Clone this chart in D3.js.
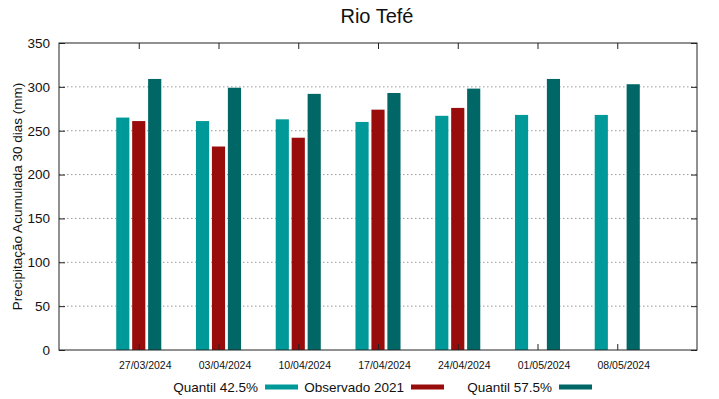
<!DOCTYPE html>
<html>
<head>
<meta charset="utf-8">
<script src="https://cdn.jsdelivr.net/npm/d3@7"></script>
<style>
  body { margin: 0; background: #fff; }
  text { font-family: "Liberation Sans", Arial, sans-serif; }
</style>
</head>
<body>
<div id="chart"></div>
<script>
// data
var dates = ["27/03/2024", "03/04/2024", "10/04/2024", "17/04/2024", "24/04/2024", "01/05/2024", "08/05/2024"];
var q425 = [265, 261, 263, 260, 267, 268, 268];
var obs2021 = [261, 232, 242, 274, 276, null, null];
var q575 = [309, 299, 292, 293, 298, 309, 303];
var yTicks = [0, 50, 100, 150, 200, 250, 300, 350];

var seriesNames = ["Quantil 42.5%", "Observado 2021", "Quantil 57.5%"];
var seriesColors = ["#009999", "#990c0c", "#006666"];
var seriesData = [q425, obs2021, q575];

var W = 719, H = 399;
var margin = { top: 43, right: 22, bottom: 49, left: 59 },
    width = W - margin.left - margin.right,
    height = H - margin.top - margin.bottom;

var svg = d3.select("#chart")
    .append("svg")
    .attr("width", W)
    .attr("height", H);

var g = svg.append("g")
    .attr("transform", "translate(" + margin.left + "," + margin.top + ")");

// groups sit at 0..6, with a spare slot each side
var x = d3.scaleLinear().domain([-1, dates.length]).range([0, width]);
var y = d3.scaleLinear().domain([0, 350]).range([height, 0]);

// dotted grid
g.append("g")
    .selectAll("line")
    .data(yTicks.filter(function (d) { return d > 0 && d < 350; }))
    .enter().append("line")
    .attr("x1", 0).attr("x2", width)
    .attr("y1", function (d) { return y(d); })
    .attr("y2", function (d) { return y(d); })
    .attr("stroke", "#999")
    .attr("stroke-width", 1)
    .attr("stroke-dasharray", "1.5,2.5");

// bars
var barW = 0.165, step = 0.2;
seriesData.forEach(function (vals, s) {
    g.append("g")
        .selectAll("rect")
        .data(vals.map(function (v, i) { return { i: i, v: v }; }).filter(function (d) { return d.v != null; }))
        .enter().append("rect")
        .attr("x", function (d) { return x(d.i + (s - 1) * step - barW / 2); })
        .attr("width", x(barW) - x(0))
        .attr("y", function (d) { return y(d.v); })
        .attr("height", function (d) { return height - y(d.v); })
        .attr("fill", seriesColors[s]);
});

// axes
var yAxis = g.append("g")
    .call(d3.axisLeft(y).tickValues(yTicks).tickSize(-6).tickPadding(9));
yAxis.select(".domain").remove();
yAxis.selectAll("line").attr("stroke", "#222");
yAxis.selectAll("text").attr("font-size", "13.5px").attr("fill", "#111")
    .style("font-family", "Liberation Sans, Arial, sans-serif");

var yAxisR = g.append("g")
    .attr("transform", "translate(" + width + ",0)")
    .call(d3.axisRight(y).tickValues(yTicks).tickSize(-6).tickFormat(""));
yAxisR.select(".domain").remove();
yAxisR.selectAll("line").attr("stroke", "#222");

var xIdx = d3.range(dates.length);
var xAxis = g.append("g")
    .attr("transform", "translate(0," + height + ")")
    .call(d3.axisBottom(x).tickValues(xIdx).tickSize(-6).tickPadding(12)
        .tickFormat(function (i) { return dates[i]; }));
xAxis.select(".domain").remove();
xAxis.selectAll("line").attr("stroke", "#222");
xAxis.selectAll("text").attr("font-size", "10.5px").attr("fill", "#111")
    .attr("dx", 6)
    .style("font-family", "Liberation Sans, Arial, sans-serif");

var xAxisT = g.append("g")
    .call(d3.axisTop(x).tickValues(xIdx).tickSize(-6).tickFormat(""));
xAxisT.select(".domain").remove();
xAxisT.selectAll("line").attr("stroke", "#222");

// frame
g.append("rect")
    .attr("width", width).attr("height", height)
    .attr("fill", "none")
    .attr("stroke", "#222")
    .attr("stroke-width", 1);

// title
svg.append("text")
    .attr("x", 377).attr("y", 23)
    .attr("text-anchor", "middle")
    .attr("font-size", "20px")
    .attr("fill", "#111")
    .text("Rio Tefé");

// y label
svg.append("text")
    .attr("text-anchor", "middle")
    .attr("transform", "translate(22," + (margin.top + height / 2) + ")rotate(-90)")
    .attr("font-size", "13.5px")
    .attr("fill", "#111")
    .text("Precipitação Acumulada 30 dias (mm)");

// legend
var legEnds = [258, 404, 552];
var leg = svg.append("g");
seriesNames.forEach(function (name, s) {
    leg.append("text")
        .attr("x", legEnds[s]).attr("y", 392)
        .attr("text-anchor", "end")
        .attr("font-size", "13.5px")
        .attr("fill", "#111")
        .text(name);
    leg.append("rect")
        .attr("x", legEnds[s] + 7).attr("y", 384.5)
        .attr("width", 33).attr("height", 5)
        .attr("fill", seriesColors[s]);
});
</script>
</body>
</html>
